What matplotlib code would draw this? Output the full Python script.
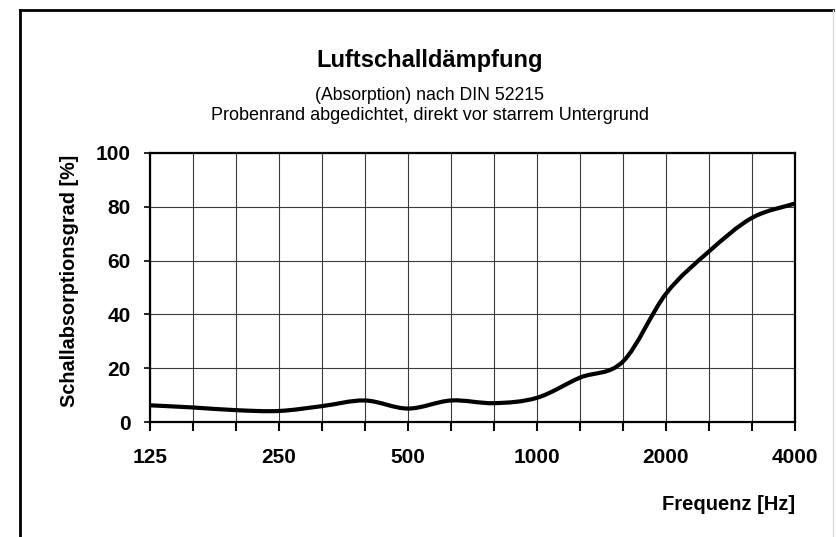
import matplotlib
matplotlib.use("Agg")
import matplotlib.pyplot as plt
from matplotlib.path import Path
from matplotlib.patches import PathPatch
from matplotlib.lines import Line2D
import numpy as np

# third-octave bands, labels only on the octaves
freq_labels = ["125", "160", "200", "250", "315", "400", "500", "630", "800",
               "1000", "1250", "1600", "2000", "2500", "3150", "4000"]
octave_labels = ["125", "250", "500", "1000", "2000", "4000"]
absorption = [6.2, 5.4, 4.4, 4.1, 5.9, 8.0, 5.0, 8.0, 7.0,
              9.0, 16.5, 22.5, 47.7, 63.4, 75.9, 81.2]

plt.rcParams["font.family"] = ["Liberation Sans", "DejaVu Sans"]

W, H = 837, 537
fig = plt.figure(figsize=(W / 100, H / 100), dpi=100)
ax = fig.add_axes([150 / W, 1 - 422 / H, 645 / W, 269 / H])

x = np.arange(len(freq_labels))
y = np.array(absorption)

# smoothed line like the spreadsheet (bezier segments, catmull-rom handles)
verts = [(x[0], y[0])]
codes = [Path.MOVETO]
n = len(x)
for i in range(n - 1):
    p0 = np.array([x[max(i - 1, 0)], y[max(i - 1, 0)]])
    p1 = np.array([x[i], y[i]])
    p2 = np.array([x[i + 1], y[i + 1]])
    p3 = np.array([x[min(i + 2, n - 1)], y[min(i + 2, n - 1)]])
    c1 = p1 + (p2 - p0) / 6.0
    c2 = p2 - (p3 - p1) / 6.0
    verts += [tuple(c1), tuple(c2), tuple(p2)]
    codes += [Path.CURVE4, Path.CURVE4, Path.CURVE4]
curve = PathPatch(Path(verts, codes), facecolor="none", edgecolor="black",
                  lw=3.0, capstyle="round", joinstyle="round", zorder=3)
ax.add_patch(curve)

ax.set_xlim(0, n - 1)
ax.set_ylim(0, 100)
ax.set_xticks(x)
ax.set_xticklabels([l if l in octave_labels else "" for l in freq_labels])
ax.set_yticks([0, 20, 40, 60, 80, 100])

ax.grid(True, color="#3a3a3a", lw=0.8)
ax.set_axisbelow(True)
for s in ax.spines.values():
    s.set_linewidth(1.6)
    s.set_color("black")

ax.tick_params(axis="x", direction="out", length=6.5, width=1.5, pad=12,
               labelsize=15)
ax.tick_params(axis="y", direction="out", length=4.5, width=1.2, pad=9.5,
               labelsize=15)
for lbl in ax.get_xticklabels() + ax.get_yticklabels():
    lbl.set_fontweight("bold")

fig.text(70 / W, 1 - 281 / H, "Schallabsorptionsgrad [%]", rotation=90,
         ha="center", va="center", fontsize=14.3, fontweight="bold")
fig.text(795 / W, 1 - 510 / H, "Frequenz [Hz]", ha="right",
         va="baseline", fontsize=14.5, fontweight="bold")

fig.text(430 / W, 1 - 67 / H, "Luftschalldämpfung", ha="center",
         va="baseline", fontsize=17, fontweight="bold")
fig.text(430 / W, 1 - 100 / H, "(Absorption) nach DIN 52215", ha="center",
         va="baseline", fontsize=12.7)
fig.text(430 / W, 1 - 120 / H,
         "Probenrand abgedichtet, direkt vor starrem Untergrund",
         ha="center", va="baseline", fontsize=13)

# frame of the scanned sheet
fig.add_artist(Line2D([20 / W, 20 / W], [0.0, 1 - 10 / H], color="black",
                      lw=2.0))
fig.add_artist(Line2D([20 / W, 833 / W], [1 - 10 / H, 1 - 10 / H],
                      color="black", lw=2.0))
fig.add_artist(Line2D([833 / W, 833 / W], [0.0, 1 - 10 / H],
                      color="#dddddd", lw=1.0))

fig.savefig("out.png", dpi=100)
